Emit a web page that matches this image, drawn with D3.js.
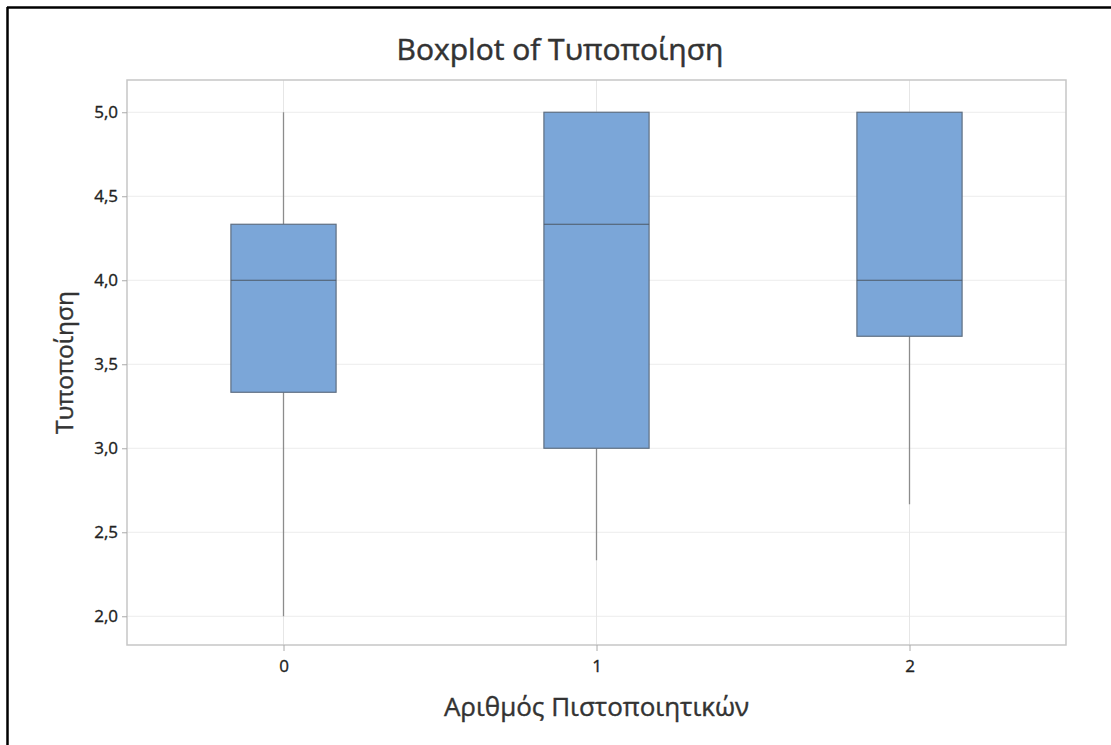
<!DOCTYPE html>
<html>
<head>
<meta charset="utf-8">
<script src="https://cdn.jsdelivr.net/npm/d3@7"></script>
<style>
  html, body { margin: 0; padding: 0; background: #fff; }
  svg { display: block; font-family: "Open Sans", "Noto Sans", sans-serif; }
</style>
</head>
<body>
<svg id="chart" width="1111" height="745"></svg>
<script>
// Groups on the x axis (number of certificates)
const categories = ["0", "1", "2"];
// Five-number summaries per group
const whiskerLow  = [2.0, 2.3333, 2.6667];
const q1          = [3.3333, 3.0, 3.6667];
const medians     = [4.0, 4.3333, 4.0];
const q3          = [4.3333, 5.0, 5.0];
const whiskerHigh = [5.0, 5.0, 5.0];
// Y axis ticks
const yTicks = [2.0, 2.5, 3.0, 3.5, 4.0, 4.5, 5.0];

const svg = d3.select("#chart");
const W = 1111, H = 745;
const plot = { left: 127, right: 1066, top: 80, bottom: 645 };

// outer frame (top and left edges visible)
svg.append("line").attr("x1", 7).attr("x2", W).attr("y1", 7.5).attr("y2", 7.5)
  .attr("stroke", "#000").attr("stroke-width", 2.5);
svg.append("line").attr("x1", 7.5).attr("x2", 7.5).attr("y1", 7).attr("y2", H)
  .attr("stroke", "#000").attr("stroke-width", 2.5);

const x = d3.scaleLinear().domain([-0.5, 2.5]).range([plot.left, plot.right]);
const y = d3.scaleLinear().domain([1.829, 5.192]).range([plot.bottom, plot.top]);

const g = svg.append("g");

// gridlines
g.selectAll("line.hgrid").data(yTicks).join("line")
  .attr("class", "hgrid")
  .attr("x1", plot.left).attr("x2", plot.right)
  .attr("y1", d => y(d)).attr("y2", d => y(d))
  .attr("stroke", "#ececec").attr("stroke-width", 1);
g.selectAll("line.vgrid").data(categories).join("line")
  .attr("class", "vgrid")
  .attr("x1", (d, i) => x(i)).attr("x2", (d, i) => x(i))
  .attr("y1", plot.top).attr("y2", plot.bottom)
  .attr("stroke", "#e6e6e6").attr("stroke-width", 1);

// plot frame
g.append("rect")
  .attr("x", plot.left).attr("y", plot.top)
  .attr("width", plot.right - plot.left).attr("height", plot.bottom - plot.top)
  .attr("fill", "none").attr("stroke", "#c6c6c6").attr("stroke-width", 1.5);

// slightly heavier than regular weight text
function heavy(sel, color, sw) {
  sel.attr("fill", color).attr("stroke", color).attr("stroke-width", sw)
    .style("font-family", "'Open Sans', sans-serif").style("font-weight", 400);
}

// y axis
const yAxis = d3.axisLeft(y).tickValues(yTicks).tickSize(5).tickPadding(4)
  .tickFormat(d => d3.format(".1f")(d).replace(".", ","));
const ya = svg.append("g").attr("transform", `translate(${plot.left},0)`).call(yAxis);
ya.select(".domain").remove();
ya.selectAll(".tick line").attr("stroke", "#aaa");
ya.selectAll(".tick text").style("font-size", "17px").call(heavy, "#222", 0.35);

// x axis
const xAxis = d3.axisBottom(x).tickValues([0, 1, 2]).tickSize(6).tickPadding(9)
  .tickFormat((d) => categories[d]);
const xa = svg.append("g").attr("transform", `translate(0,${plot.bottom})`).call(xAxis);
xa.select(".domain").remove();
xa.selectAll(".tick line").attr("stroke", "#aaa");
xa.selectAll(".tick text").style("font-size", "17px").call(heavy, "#222", 0.35);

// boxes
const halfW = 0.168;
const boxes = svg.append("g");
categories.forEach((c, i) => {
  // whiskers
  boxes.append("line")
    .attr("x1", x(i)).attr("x2", x(i))
    .attr("y1", y(whiskerLow[i])).attr("y2", y(q1[i]))
    .attr("stroke", "#8c8c8c").attr("stroke-width", 1.3);
  boxes.append("line")
    .attr("x1", x(i)).attr("x2", x(i))
    .attr("y1", y(q3[i])).attr("y2", y(whiskerHigh[i]))
    .attr("stroke", "#8c8c8c").attr("stroke-width", 1.3);
  // interquartile box
  boxes.append("rect")
    .attr("x", x(i - halfW)).attr("y", y(q3[i]))
    .attr("width", x(i + halfW) - x(i - halfW))
    .attr("height", y(q1[i]) - y(q3[i]))
    .attr("fill", "#7ba6d8").attr("stroke", "#5f6f82").attr("stroke-width", 1.2);
  // median
  boxes.append("line")
    .attr("x1", x(i - halfW)).attr("x2", x(i + halfW))
    .attr("y1", y(medians[i])).attr("y2", y(medians[i]))
    .attr("stroke", "#4d5866").attr("stroke-width", 1.2);
});

// title and axis labels
svg.append("text")
  .attr("x", 560).attr("y", 60)
  .attr("text-anchor", "middle")
  .style("font-size", "30px")
  .call(heavy, "#333", 0.5)
  .text("Boxplot of Τυποποίηση");

svg.append("text")
  .attr("x", (plot.left + plot.right) / 2).attr("y", 716)
  .attr("text-anchor", "middle")
  .style("font-size", "26px")
  .call(heavy, "#333", 0.4)
  .text("Αριθμός Πιστοποιητικών");

svg.append("text")
  .attr("transform", `translate(73,${(plot.top + plot.bottom) / 2}) rotate(-90)`)
  .attr("text-anchor", "middle")
  .style("font-size", "24.5px")
  .call(heavy, "#333", 0.4)
  .text("Τυποποίηση");
</script>
</body>
</html>
